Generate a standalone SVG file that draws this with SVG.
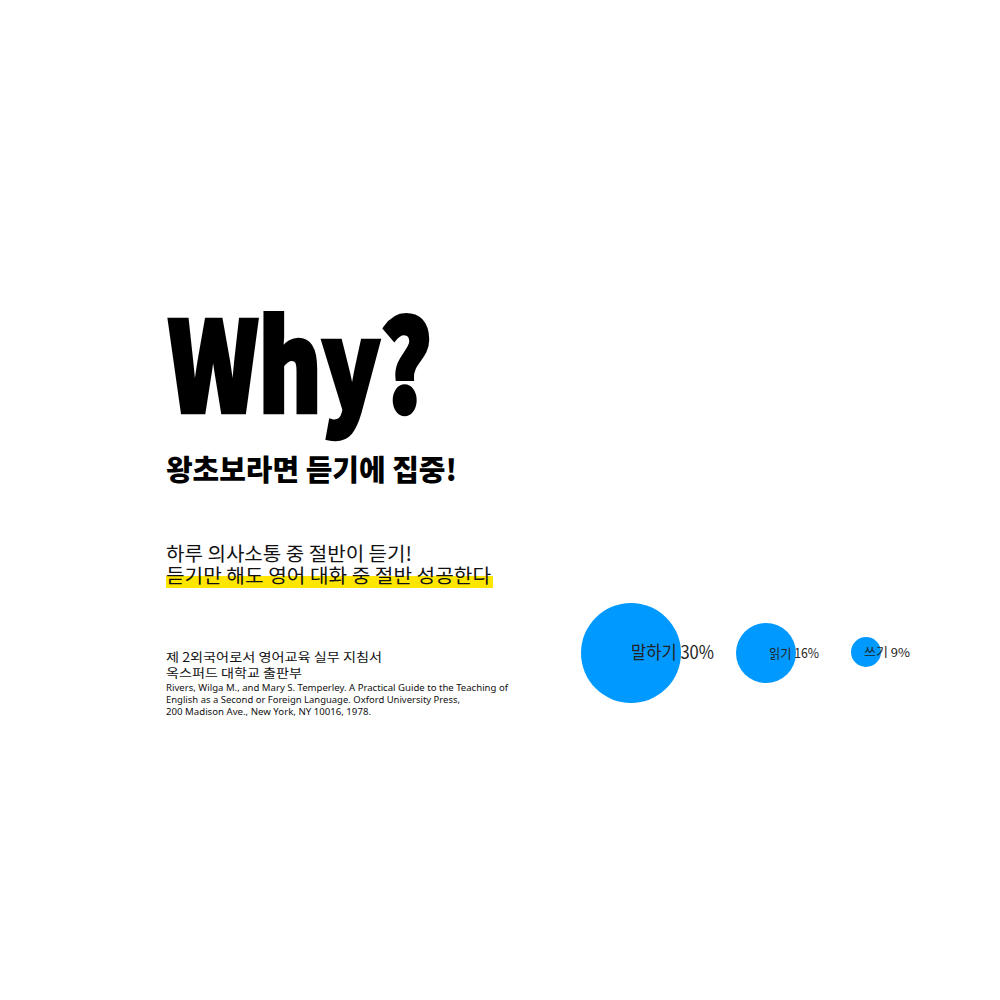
<svg xmlns="http://www.w3.org/2000/svg" width="1000" height="1000" viewBox="0 0 1000 1000">
<style>
.why{font-family:"Noto Sans CJK KR","Liberation Sans",sans-serif;font-weight:900;font-size:124px;fill:#000;stroke:#000;stroke-width:4.5;stroke-linejoin:miter}
.head{font-family:"Noto Sans CJK KR",sans-serif;font-weight:900;font-size:29px;fill:#000}
.body{font-family:"Noto Sans CJK KR",sans-serif;font-weight:400;font-size:19.5px;fill:#111}
.cite{font-family:"Noto Sans CJK KR",sans-serif;font-weight:400;font-size:12.5px;fill:#111}
.ref{font-family:"Noto Sans","Noto Sans CJK KR",sans-serif;font-weight:400;font-size:9.5px;fill:#111}
.lbl{font-family:"Noto Sans CJK KR",sans-serif;font-weight:400;fill:#222}
.bub{fill:#0099FF}
</style>
<rect width="1000" height="1000" fill="#fff"/>
<g id="title">
<text class="why" x="168" y="412" textLength="264" lengthAdjust="spacingAndGlyphs">Why?</text>
</g>
<g id="heading">
<text class="head" x="166" y="481" textLength="291" lengthAdjust="spacingAndGlyphs">왕초보라면 듣기에 집중!</text>
</g>
<g id="body">
<rect x="166" y="576" width="327" height="12" fill="#FFE600"/>
<text class="body" x="166" y="561" textLength="246" lengthAdjust="spacingAndGlyphs">하루 의사소통 중 절반이 듣기!</text>
<text class="body" x="166" y="583" textLength="325" lengthAdjust="spacingAndGlyphs">듣기만 해도 영어 대화 중 절반 성공한다</text>
</g>
<g id="citation">
<text class="cite" x="166" y="662" textLength="216" lengthAdjust="spacingAndGlyphs">제 2외국어로서 영어교육 실무 지침서</text>
<text class="cite" x="166" y="678" textLength="136" lengthAdjust="spacingAndGlyphs">옥스퍼드 대학교 출판부</text>
<text class="ref" x="166" y="691" textLength="342" lengthAdjust="spacingAndGlyphs">Rivers, Wilga M., and Mary S. Temperley. A Practical Guide to the Teaching of</text>
<text class="ref" x="166" y="703" textLength="294" lengthAdjust="spacingAndGlyphs">English as a Second or Foreign Language. Oxford University Press,</text>
<text class="ref" x="166" y="715" textLength="205" lengthAdjust="spacingAndGlyphs">200 Madison Ave., New York, NY 10016, 1978.</text>
</g>
<g id="speaking">
<circle class="bub" cx="631" cy="653" r="50"/>
<text class="lbl" x="631" y="659" font-size="18" textLength="83" lengthAdjust="spacingAndGlyphs">말하기 30%</text>
</g>
<g id="reading">
<circle class="bub" cx="766" cy="653" r="30"/>
<text class="lbl" x="769" y="658" font-size="13" textLength="50" lengthAdjust="spacingAndGlyphs">읽기 16%</text>
</g>
<g id="writing">
<circle class="bub" cx="866" cy="652" r="15"/>
<text class="lbl" x="864" y="657" font-size="12" textLength="46" lengthAdjust="spacingAndGlyphs">쓰기 9%</text>
</g>
<g id="connectors"/>
</svg>
